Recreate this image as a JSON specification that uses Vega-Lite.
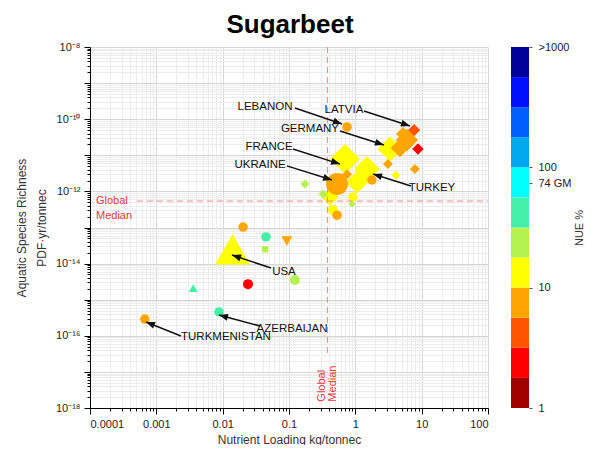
{
  "$schema": "https://vega.github.io/schema/vega-lite/v6.json",
  "padding": {"left": 15, "top": 12, "right": 0, "bottom": 0},
  "config": {
    "font": "Liberation Sans",
    "view": {"stroke": null},
    "axis": {
      "labelFont": "Liberation Sans",
      "titleFont": "Liberation Sans",
      "labelColor": "#222222",
      "titleColor": "#333333",
      "labelFontSize": 11,
      "titleFontSize": 12,
      "titleFontWeight": "normal",
      "domainColor": "#000000",
      "tickColor": "#000000"
    }
  },
  "datasets": {
    "crops": [
      {"country": "France", "group": "b", "loading": 0.70, "richness": 7.9e-12, "nue": 13, "production": 90},
      {"country": "Turkey", "group": "b", "loading": 1.50, "richness": 4.2e-12, "nue": 13, "production": 65},
      {"country": "", "group": "b", "loading": 1.06, "richness": 1.8e-12, "nue": 13, "production": 50},
      {"country": "", "group": "b", "loading": 0.415, "richness": 7.0e-13, "nue": 13, "production": 30},
      {"country": "Germany", "group": "b", "loading": 3.33, "richness": 1.5e-11, "nue": 13, "production": 62},
      {"country": "", "group": "b", "loading": 6.0, "richness": 2.65e-11, "nue": 7.5, "production": 50},
      {"country": "", "group": "b", "loading": 4.7, "richness": 1.6e-11, "nue": 7.5, "production": 35},
      {"country": "", "group": "b", "loading": 5.24, "richness": 3.9e-11, "nue": 7.5, "production": 20},
      {"country": "Latvia", "group": "b", "loading": 7.7, "richness": 5.0e-11, "nue": 4.2, "production": 15},
      {"country": "", "group": "b", "loading": 8.8, "richness": 1.5e-11, "nue": 2.5, "production": 13},
      {"country": "", "group": "b", "loading": 3.1, "richness": 5.7e-12, "nue": 7.5, "production": 10},
      {"country": "", "group": "b", "loading": 7.9, "richness": 4.2e-12, "nue": 7.5, "production": 10},
      {"country": "", "group": "b", "loading": 4.1, "richness": 2.8e-12, "nue": 13, "production": 8},
      {"country": "", "group": "b", "loading": 0.75, "richness": 3.0e-12, "nue": 7.5, "production": 10},
      {"country": "", "group": "b", "loading": 0.174, "richness": 1.6e-12, "nue": 24, "production": 8},
      {"country": "", "group": "b", "loading": 0.326, "richness": 8.5e-13, "nue": 24, "production": 8},
      {"country": "", "group": "b", "loading": 0.89, "richness": 4.5e-13, "nue": 24, "production": 5},
      {"country": "Ukraine", "group": "a", "loading": 0.53, "richness": 1.6e-12, "nue": 7.5, "production": 48},
      {"country": "", "group": "a", "loading": 1.78, "richness": 2.07e-12, "nue": 7.5, "production": 9},
      {"country": "", "group": "a", "loading": 0.92, "richness": 7.0e-13, "nue": 13, "production": 9},
      {"country": "", "group": "a", "loading": 0.46, "richness": 3.05e-13, "nue": 13, "production": 10},
      {"country": "", "group": "a", "loading": 0.53, "richness": 2.2e-13, "nue": 7.5, "production": 9},
      {"country": "Lebanon", "group": "a", "loading": 0.75, "richness": 6.1e-11, "nue": 7.5, "production": 9},
      {"country": "", "group": "a", "loading": 0.0203, "richness": 1.03e-13, "nue": 7.5, "production": 9},
      {"country": "", "group": "a", "loading": 0.045, "richness": 5.5e-14, "nue": 42, "production": 9},
      {"country": "", "group": "e", "loading": 0.0435, "richness": 2.5e-14, "nue": 24, "production": 4},
      {"country": "", "group": "d", "loading": 0.093, "richness": 4.2e-14, "nue": 7.5, "production": 12},
      {"country": "USA", "group": "c", "loading": 0.0141, "richness": 2.46e-14, "nue": 13, "production": 122},
      {"country": "", "group": "a", "loading": 0.0241, "richness": 2.7e-15, "nue": 2.5, "production": 10},
      {"country": "", "group": "a", "loading": 0.123, "richness": 3.5e-15, "nue": 24, "production": 10},
      {"country": "", "group": "c", "loading": 0.0036, "richness": 2.1e-15, "nue": 42, "production": 8},
      {"country": "Azerbaijan", "group": "a", "loading": 0.0088, "richness": 4.6e-16, "nue": 42, "production": 9},
      {"country": "Turkmenistan", "group": "a", "loading": 0.00067, "richness": 2.9e-16, "nue": 7.5, "production": 9}
    ],
    "medians": [
      {"loading": 0.38, "richness": 5.4e-13}
    ],
    "callouts": [
      {"label": "LEBANON", "textx": 0.0435, "texty": 2.18e-10, "ax": 0.123, "ay": 2.04e-10, "tx": 0.63, "ty": 7.4e-11},
      {"label": "LATVIA", "textx": 0.675, "texty": 1.8e-10, "ax": 1.35, "ay": 1.69e-10, "tx": 6.67, "ty": 6.5e-11},
      {"label": "GERMANY", "textx": 0.207, "texty": 5.4e-11, "ax": 0.588, "ay": 4.7e-11, "tx": 2.7, "ty": 1.93e-11},
      {"label": "FRANCE", "textx": 0.05, "texty": 1.7e-11, "ax": 0.115, "ay": 1.49e-11, "tx": 0.588, "ty": 5.7e-12},
      {"label": "UKRAINE", "textx": 0.0366, "texty": 5.4e-12, "ax": 0.093, "ay": 5.1e-12, "tx": 0.445, "ty": 2.07e-12},
      {"label": "TURKEY", "textx": 14.3, "texty": 1.24e-12, "ax": 6.9, "ay": 1.41e-12, "tx": 1.85, "ty": 3.03e-12},
      {"label": "USA", "textx": 0.084, "texty": 5.85e-15, "ax": 0.0536, "ay": 7.55e-15, "tx": 0.0138, "ty": 1.73e-14},
      {"label": "AZERBAIJAN", "textx": 0.111, "texty": 1.54e-16, "ax": 0.0366, "ay": 1.87e-16, "tx": 0.0088, "ty": 3.77e-16},
      {"label": "TURKMENISTAN", "textx": 0.0112, "texty": 9.3e-17, "ax": 0.00235, "ay": 9.9e-17, "tx": 0.000698, "ty": 2.41e-16}
    ],
    "nueBands": [
      {"lower": 1, "upper": 1.778, "mid": 1.33},
      {"lower": 1.778, "upper": 3.162, "mid": 2.37},
      {"lower": 3.162, "upper": 5.623, "mid": 4.22},
      {"lower": 5.623, "upper": 10, "mid": 7.5},
      {"lower": 10, "upper": 17.78, "mid": 13.3},
      {"lower": 17.78, "upper": 31.62, "mid": 23.7},
      {"lower": 31.62, "upper": 56.23, "mid": 42.2},
      {"lower": 56.23, "upper": 100, "mid": 75},
      {"lower": 100, "upper": 177.8, "mid": 133},
      {"lower": 177.8, "upper": 316.2, "mid": 237},
      {"lower": 316.2, "upper": 562.3, "mid": 422},
      {"lower": 562.3, "upper": 1000, "mid": 750}
    ]
  },
  "spacing": 22,
  "resolve": {"scale": {"color": "independent"}},
  "hconcat": [
    {
      "width": 398,
      "height": 361,
      "title": {"text": "Sugarbeet", "fontSize": 26, "fontWeight": "bold", "font": "Liberation Sans", "color": "#000000", "offset": 3, "anchor": "middle", "frame": "group", "dx": 1},
      "layer": [
        {
          "data": {"name": "crops"},
          "mark": {"type": "point", "filled": true, "opacity": 1, "strokeWidth": 0},
          "encoding": {
            "x": {
              "field": "loading", "type": "quantitative",
              "scale": {"type": "log", "domain": [0.0001, 100], "nice": false},
              "axis": {
                "title": "Nutrient Loading kg/tonneᴄ",
                "values": [0.0001, 0.0002, 0.0003, 0.0004, 0.0005, 0.0006, 0.0007, 0.0008, 0.0009,
                           0.001, 0.002, 0.003, 0.004, 0.005, 0.006, 0.007, 0.008, 0.009,
                           0.01, 0.02, 0.03, 0.04, 0.05, 0.06, 0.07, 0.08, 0.09,
                           0.1, 0.2, 0.3, 0.4, 0.5, 0.6, 0.7, 0.8, 0.9,
                           1, 2, 3, 4, 5, 6, 7, 8, 9,
                           10, 20, 30, 40, 50, 60, 70, 80, 90, 100],
                "labelExpr": "datum.value == 0.0001 ? '0.0001' : datum.value == 0.001 ? '0.001' : datum.value == 0.01 ? '0.01' : datum.value == 0.1 ? '0.1' : datum.value == 1 ? '1' : datum.value == 10 ? '10' : datum.value == 100 ? '100' : ''",
                "labelOverlap": false,
                "labelPadding": 4,
                "titlePadding": 5,
                "grid": true,
                "gridColor": {"condition": {"test": "abs(log(datum.value)/LN10 - round(log(datum.value)/LN10)) < 0.01", "value": "#d6d6d6"}, "value": "#ececec"},
                "tickSize": {"condition": {"test": "abs(log(datum.value)/LN10 - round(log(datum.value)/LN10)) < 0.01", "value": 6}, "value": 3}
              }
            },
            "y": {
              "field": "richness", "type": "quantitative",
              "scale": {"type": "log", "domain": [1e-18, 1e-8], "nice": false},
              "axis": {
                "title": ["Aquatic Species Richness", "PDF·yr/tonneᴄ"],
                "titleLineHeight": 20,
                "values": [1e-18, 2e-18, 3e-18, 4e-18, 5e-18, 6e-18, 7e-18, 8e-18, 9e-18,
                           1e-17, 2e-17, 3e-17, 4e-17, 5e-17, 6e-17, 7e-17, 8e-17, 9e-17,
                           1e-16, 2e-16, 3e-16, 4e-16, 5e-16, 6e-16, 7e-16, 8e-16, 9e-16,
                           1e-15, 2e-15, 3e-15, 4e-15, 5e-15, 6e-15, 7e-15, 8e-15, 9e-15,
                           1e-14, 2e-14, 3e-14, 4e-14, 5e-14, 6e-14, 7e-14, 8e-14, 9e-14,
                           1e-13, 2e-13, 3e-13, 4e-13, 5e-13, 6e-13, 7e-13, 8e-13, 9e-13,
                           1e-12, 2e-12, 3e-12, 4e-12, 5e-12, 6e-12, 7e-12, 8e-12, 9e-12,
                           1e-11, 2e-11, 3e-11, 4e-11, 5e-11, 6e-11, 7e-11, 8e-11, 9e-11,
                           1e-10, 2e-10, 3e-10, 4e-10, 5e-10, 6e-10, 7e-10, 8e-10, 9e-10,
                           1e-9, 2e-9, 3e-9, 4e-9, 5e-9, 6e-9, 7e-9, 8e-9, 9e-9, 1e-8],
                "labelExpr": "datum.value == 1e-8 ? '10⁻⁸' : datum.value == 1e-10 ? '10⁻¹⁰' : datum.value == 1e-12 ? '10⁻¹²' : datum.value == 1e-14 ? '10⁻¹⁴' : datum.value == 1e-16 ? '10⁻¹⁶' : datum.value == 1e-18 ? '10⁻¹⁸' : ''",
                "labelOverlap": false,
                "labelPadding": 4,
                "titlePadding": 7,
                "grid": true,
                "gridColor": {"condition": {"test": "abs(log(datum.value)/LN10 - round(log(datum.value)/LN10)) < 0.01", "value": "#d6d6d6"}, "value": "#ececec"},
                "tickSize": {"condition": {"test": "abs(log(datum.value)/LN10 - round(log(datum.value)/LN10)) < 0.01", "value": 6}, "value": 3}
              }
            },
            "color": {
              "field": "nue", "type": "quantitative",
              "scale": {
                "type": "threshold",
                "domain": [1.778, 3.162, 5.623, 10, 17.78, 31.62, 56.23, 100, 177.8, 316.2, 562.3],
                "range": ["#a00000", "#ff0000", "#ff5500", "#ffa500", "#ffff00", "#b4f250", "#44f0a8", "#00ffff", "#00a8f0", "#0060ff", "#0010ff", "#00009a"]
              },
              "legend": null
            },
            "shape": {
              "field": "group", "type": "nominal",
              "scale": {"domain": ["a", "b", "c", "d", "e"], "range": ["circle", "diamond", "triangle-up", "triangle-down", "square"]},
              "legend": null
            },
            "size": {
              "field": "production", "type": "quantitative",
              "scale": {"type": "linear", "domain": [0, 150], "range": [0, 1500]},
              "legend": null
            }
          }
        },
        {
          "data": {"name": "medians"},
          "mark": {"type": "rule", "color": "#f08a8a", "strokeWidth": 1, "strokeDash": [6, 4]},
          "encoding": {
            "x": {"field": "loading", "type": "quantitative"},
            "y": {"datum": 1e-8, "type": "quantitative"},
            "y2": {"datum": 3e-17}
          }
        },
        {
          "data": {"name": "medians"},
          "mark": {"type": "rule", "color": "#f08a8a", "strokeWidth": 1, "strokeDash": [6, 4]},
          "encoding": {
            "x": {"datum": 0.00051, "type": "quantitative"},
            "x2": {"datum": 100},
            "y": {"field": "richness", "type": "quantitative"}
          }
        },
        {
          "data": {"name": "medians"},
          "mark": {"type": "text", "text": "Global\nMedian", "lineBreak": "\n", "lineHeight": 15, "align": "left", "baseline": "middle", "dx": 6, "fontSize": 11, "color": "#e8393b"},
          "encoding": {
            "x": {"datum": 0.0001, "type": "quantitative"},
            "y": {"field": "richness", "type": "quantitative"}
          }
        },
        {
          "data": {"name": "medians"},
          "mark": {"type": "text", "text": "Global\nMedian", "lineBreak": "\n", "lineHeight": 11, "align": "left", "baseline": "middle", "angle": 270, "dy": -5, "fontSize": 11, "color": "#e8393b"},
          "encoding": {
            "x": {"field": "loading", "type": "quantitative"},
            "y": {"datum": 1.5e-18, "type": "quantitative"}
          }
        },
        {
          "data": {"name": "callouts"},
          "mark": {"type": "rule", "color": "#111111", "strokeWidth": 1.5},
          "encoding": {
            "x": {"field": "ax", "type": "quantitative"},
            "y": {"field": "ay", "type": "quantitative"},
            "x2": {"field": "tx"},
            "y2": {"field": "ty"}
          }
        },
        {
          "data": {"name": "callouts"},
          "mark": {"type": "point", "shape": "M0,0L-0.7,1.8L0.7,1.8Z", "filled": true, "opacity": 1, "color": "#111111", "size": 100, "strokeWidth": 0},
          "encoding": {
            "x": {"field": "tx", "type": "quantitative"},
            "y": {"field": "ty", "type": "quantitative"},
            "angle": {"value": {"expr": "atan2(-(log(datum.ty) - log(datum.ay)) * 36.1 / LN10, (log(datum.tx) - log(datum.ax)) * 66.33 / LN10) * 180 / PI + 90"}}
          }
        },
        {
          "data": {"name": "callouts"},
          "mark": {"type": "text", "align": "center", "baseline": "middle", "fontSize": 11.5, "color": "#111111"},
          "encoding": {
            "x": {"field": "textx", "type": "quantitative"},
            "y": {"field": "texty", "type": "quantitative"},
            "text": {"field": "label"}
          }
        }
      ]
    },
    {
      "width": 18,
      "height": 361,
      "data": {"name": "nueBands"},
      "mark": {"type": "rect"},
      "encoding": {
        "y": {
          "field": "lower", "type": "quantitative",
          "scale": {"type": "log", "domain": [1, 1000], "nice": false},
          "axis": {
            "orient": "right",
            "values": [1, 10, 74, 100, 1000],
            "labelExpr": "datum.value == 1000 ? '>1000' : datum.value == 74 ? '74 GM' : datum.label",
            "domain": false,
            "grid": false,
            "tickSize": 3,
            "tickColor": "#555555",
            "labelPadding": 6,
            "title": "NUE %",
            "titleAngle": 270,
            "titlePadding": 13,
            "titleFontSize": 11
          }
        },
        "y2": {"field": "upper"},
        "color": {
          "field": "mid", "type": "quantitative",
          "scale": {
            "type": "threshold",
            "domain": [1.778, 3.162, 5.623, 10, 17.78, 31.62, 56.23, 100, 177.8, 316.2, 562.3],
            "range": ["#a00000", "#ff0000", "#ff5500", "#ffa500", "#ffff00", "#b4f250", "#44f0a8", "#00ffff", "#00a8f0", "#0060ff", "#0010ff", "#00009a"]
          },
          "legend": null
        }
      }
    }
  ]
}
